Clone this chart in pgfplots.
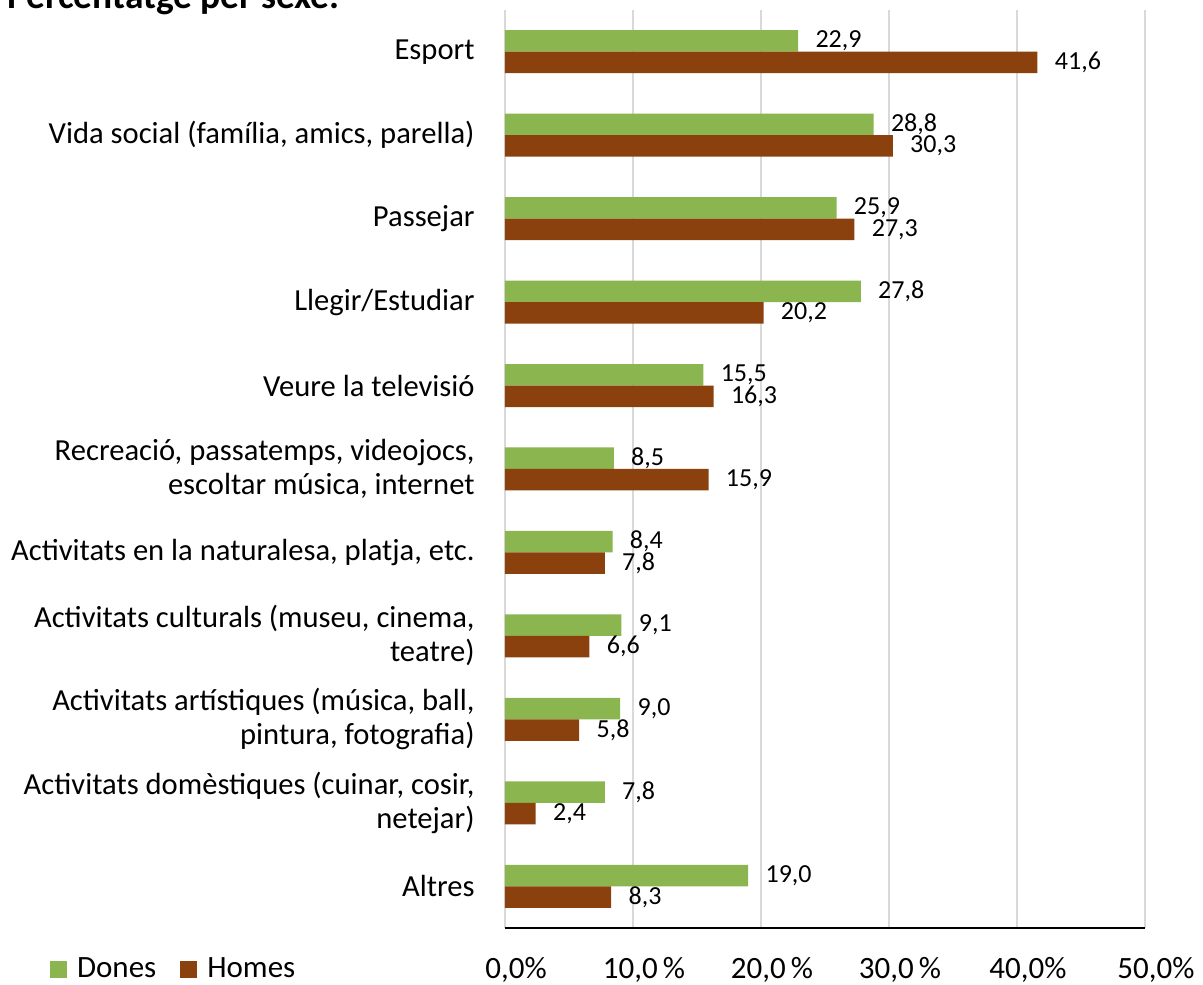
\documentclass[border=0pt]{standalone}
\usepackage{fontspec}
\setmainfont{Carlito}
\usepackage{pgfplots}
\pgfplotsset{compat=1.18}
\definecolor{dgreen}{RGB}{139,181,78}
\definecolor{hbrown}{RGB}{139,65,14}
\definecolor{gridgray}{RGB}{217,217,217}
\begin{document}
\begin{tikzpicture}
\begin{axis}[
  at={(0pt,0pt)}, anchor=south west,
  scale only axis, width=320pt, height=459pt,
  xbar, bar width=10.75pt,
  xmin=0, xmax=50, ymin=-0.5, ymax=10.5,
  /pgf/number format/assume math mode=true,
  xtick={0,10,20,30,40,50},
  xticklabels={{0,0\%},{10,0\,\%},{20,0\,\%},{30,0\,\%},{40,0\%},{50,0\%}},
  ytick={0,...,10},
  yticklabels={
    {Altres},
    {Activitats domèstiques (cuinar, cosir,\\netejar)},
    {Activitats artístiques (música, ball,\\pintura, fotografia)},
    {Activitats culturals (museu, cinema,\\teatre)},
    {Activitats en la naturalesa, platja, etc.},
    {Recreació, passatemps, videojocs,\\escoltar música, internet},
    {Veure la televisió},
    {Llegir/Estudiar},
    {Passejar},
    {Vida social (família, amics, parella)},
    {Esport}},
  major tick length=0pt,
  separate axis lines,
  axis x line*=bottom, axis y line*=left,
  x axis line style={-, black, line width=0.8pt},
  y axis line style={draw=none},
  xmajorgrids, major grid style={gridgray, line width=0.8pt},
  xticklabel style={font=\fontsize{15.5}{18}\selectfont, anchor=base, inner sep=0pt, yshift=-25pt, xshift=5.5pt},
  yticklabel style={font=\fontsize{15.3}{17}\selectfont, align=right, anchor=east, inner xsep=0pt, xshift=-15pt},
  nodes near coords,
  nodes near coords style={font=\fontsize{13}{15}\selectfont, anchor=west, inner xsep=0pt, inner ysep=0pt, xshift=8.5pt,
    /pgf/number format/.cd, fixed, fixed zerofill, precision=1, use comma, assume math mode=true},
  legend columns=2,
  legend style={at={(-0.7208,-0.0447)}, anchor=west, draw=none, fill=none,
    font=\fontsize{15.5}{18}\selectfont, column sep=0pt,
    /tikz/every odd column/.append style={column sep=3pt},
    /tikz/every even column/.append style={column sep=10pt}},
  legend image code/.code={\fill[#1] (0pt,-4.25pt) rectangle (8.5pt,4.25pt);},
]
\addplot[fill=dgreen, draw=none, bar shift=5.375pt] coordinates {
  (19.0,0) (7.8,1) (9.0,2) (9.1,3) (8.4,4) (8.5,5) (15.5,6) (27.8,7) (25.9,8) (28.8,9) (22.9,10)};
\addplot[fill=hbrown, draw=none, bar shift=-5.375pt] coordinates {
  (8.3,0) (2.4,1) (5.8,2) (6.6,3) (7.8,4) (15.9,5) (16.3,6) (20.2,7) (27.3,8) (30.3,9) (41.6,10)};
\legend{Dones, Homes}
\end{axis}
\node[anchor=base west, inner sep=0pt, font=\fontsize{18.7}{22}\selectfont\bfseries] at (-249pt,459.5pt) {Percentatge per sexe.};
\pgfresetboundingbox
\useasboundingbox (-252.5pt,-28pt) rectangle (349pt,464pt);
\end{tikzpicture}
\end{document}
